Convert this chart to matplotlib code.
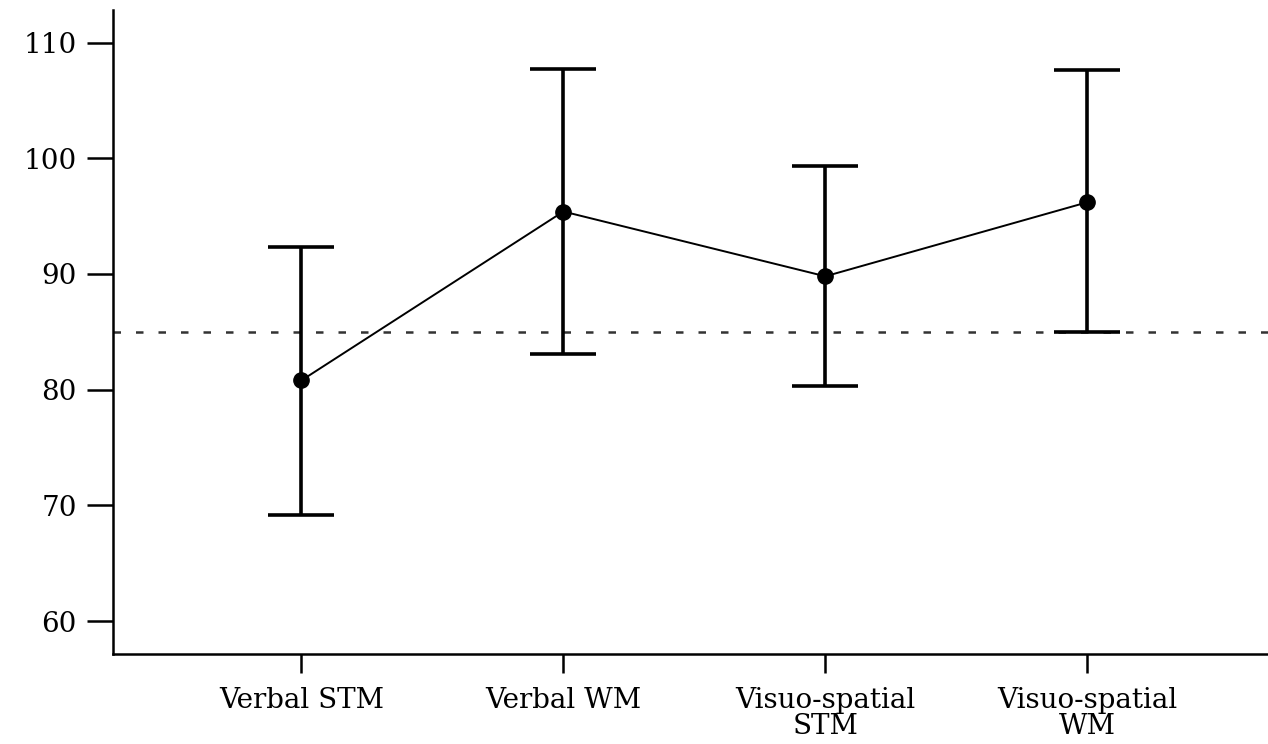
import matplotlib
matplotlib.use("Agg")
import matplotlib.pyplot as plt

# Data
categories = ["Verbal STM", "Verbal WM", "Visuo-spatial\nSTM", "Visuo-spatial\nWM"]
means = [80.8, 95.4, 89.8, 96.2]
upper = [92.3, 107.7, 99.3, 107.6]
lower = [69.2, 83.1, 80.3, 85.0]
reference_line = 85.0
y_ticks = [60, 70, 80, 90, 100, 110]

plt.rcParams['font.family'] = ['DejaVu Serif']

fig = plt.figure(figsize=(12.68, 7.44), dpi=100)
ax = fig.add_axes([0.089, 0.121, 0.911, 0.866])

x = list(range(len(categories)))
err_low = [m - l for m, l in zip(means, lower)]
err_high = [u - m for m, u in zip(means, upper)]

ax.axhline(reference_line, color='#333333', linestyle=(0, (3, 6)), linewidth=1.8)
ax.errorbar(x, means, yerr=[err_low, err_high], fmt='none', ecolor='black',
            elinewidth=2.6, capsize=24, capthick=2.6)
ax.plot(x, means, color='black', linewidth=1.4, marker='o', markersize=11)

ax.set_xlim(-0.72, 3.69)
ax.set_ylim(57.15, 112.85)
ax.set_xticks(x)
ax.set_xticklabels(categories, fontsize=20, linespacing=0.95)
ax.set_yticks(y_ticks)
ax.tick_params(axis='y', labelsize=20, length=19, width=1.8, pad=7)
ax.tick_params(axis='x', length=14, width=1.8, pad=10)

ax.spines['top'].set_visible(False)
ax.spines['right'].set_visible(False)
ax.spines['left'].set_linewidth(1.8)
ax.spines['bottom'].set_linewidth(1.8)

fig.savefig("out.png", dpi=100)
